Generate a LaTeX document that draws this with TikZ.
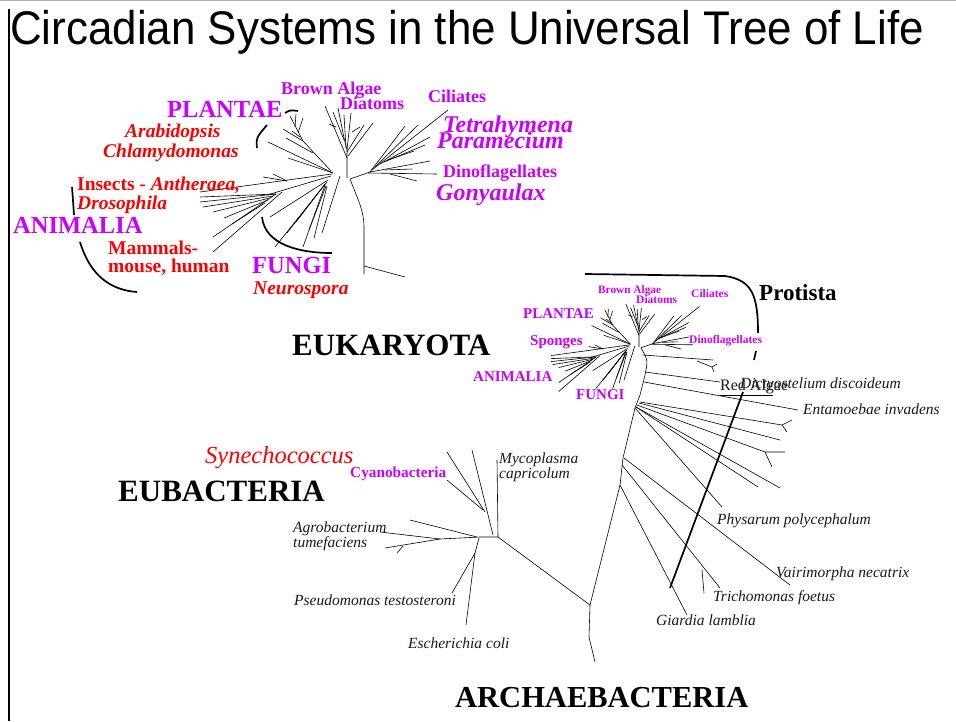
\documentclass[tikz,border=0pt]{standalone}
\usepackage{fontspec}
\setmainfont{Liberation Serif}
\newfontfamily\titlefont{Liberation Sans}
\definecolor{mag}{HTML}{CC00FF}
\definecolor{redl}{HTML}{FF0000}
\definecolor{spc}{HTML}{1A1A1A}
\newcommand{\fsz}[1]{\fontsize{#1}{#1}\selectfont}
\newcommand{\crownpaths}{%
% plants
\draw[br] (333,173)--(268,142);
\draw[br] (333,173)--(288,158);
\draw[br] (331,171)--(303,141)--(290,116);
\draw[br] (303,141)--(283,129);
\draw[br] (313,153)--(286,138);
\draw[br] (298,133)--(303,118);
\draw[br] (295,127)--(296,114);
\draw[br] (300,137)--(292,131);
% sponges
\draw[br] (263,177)--(287,181);
\draw[br] (273,174)--(287,181);
% animals
\draw[br] (332,174)--(200,192);
\draw[br] (331,176)--(267,195);
\draw[br] (276,194)--(200,197);
\draw[br] (276,194)--(200,202);
\draw[br] (273,196)--(203,207);
\draw[br] (270,198)--(213,212);
\draw[br] (268,200)--(224,218);
\draw[br] (265,203)--(232,224);
\draw[br] (276,194)--(213,237);
\draw[br] (282,192)--(213,252);
% fungi
\draw[br] (328,180)--(270,217);
\draw[br] (327,182)--(275,247);
\draw[br] (325,184)--(287,233);
\draw[br] (325,185)--(303,247);
\draw[br] (326,186)--(309,230);
\draw[br] (327,186)--(314,238);
\draw[br] (322,188)--(296,222);
\draw[br] (340,176)--(322,233);
% brown algae / diatoms
\draw[br] (347,178)--(347,150)--(344,138);
\draw[br] (347,158)--(325,106);
\draw[br] (344,140)--(333,112);
\draw[br] (344,138)--(338,108);
\draw[br] (346,148)--(344,115);
\draw[br] (347,150)--(351,113);
\draw[br] (347,152)--(364,125);
\draw[br] (348,156)--(373,123);
\draw[br] (336,127)--(329,124);
\draw[br] (352,132)--(360,127);
% ciliates / dinoflagellates
\draw[br] (350,179)--(370,172);
\draw[br] (370,172)--(405,126);
\draw[br] (375,167)--(418,125);
\draw[br] (372,170)--(448,110);
\draw[br] (380,164)--(430,137);
\draw[br] (384,162)--(425,145);
\draw[br] (388,160)--(414,151);
\draw[br] (370,172)--(430,161);
\draw[br] (368,173)--(437,174);
\draw[br] (390,174)--(417,181);
\draw[br] (385,170)--(412,169);
}
\begin{document}
\begin{tikzpicture}[x=1pt,y=-1pt,
  br/.style={line width=0.6pt, black},
  arcl/.style={line width=1.7pt, black},
  t/.style={anchor=base west, inner sep=0pt},
  mag18/.style={t, text=mag, font=\bfseries\fsz{18}},
  mag24/.style={t, text=mag, font=\bfseries\fsz{24.5}},
  magit/.style={t, text=mag, font=\bfseries\itshape\fsz{24}},
  red20/.style={t, text=redl, font=\bfseries\fsz{19.5}},
  redit/.style={t, text=redl, font=\bfseries\itshape\fsz{19.5}},
  big/.style={t, text=black, font=\bfseries\fsz{31}},
  spec/.style={t, text=spc, font=\itshape\fsz{15.5}},
  magS/.style={t, text=mag, font=\bfseries\fsz{11.5}},
  magM/.style={t, text=mag, font=\bfseries\fsz{15}}]
\useasboundingbox (0,0) rectangle (956,721);
\fill[white] (0,0) rectangle (956,721);
% frame
\draw[gray!60, line width=0.8pt] (0,0.4)--(956,0.4);
\draw[line width=1.5pt] (9,9)--(9,721);
% title
\node[t, font=\titlefont\fsz{43.7}] (title) at (10,44) {\scalebox{1.005}[1.08]{Circadian Systems in the Universal Tree of Life}};

% big eukaryote crown
\crownpaths
\draw[br] (350,179) .. controls (358,200) and (364,210) .. (364,228) -- (364,274);
\draw[br] (364,266)--(405,277);
% bracket arcs
\draw[arcl] (285,113) .. controls (290,110) .. (298,111);
\draw[arcl] (257,148) .. controls (256,138) .. (267,125);
\draw[arcl] (72,187) .. controls (73,200) .. (74,215);
\draw[arcl] (80,242) .. controls (90,275) and (110,290) .. (137,292);
\draw[arcl] (262,217) .. controls (265,245) and (300,253) .. (332,253);

% inset crown
\begin{scope}[shift={(636,346)}, scale=0.6, shift={(-342,-176)}]
\crownpaths
\end{scope}
% Protista bracket
\draw[arcl] (585,274) -- (725,276) .. controls (752,280) and (758,295) .. (758,333);
\draw[arcl] (756,351) -- (754,360);
% main trunk
\draw[br] (641,348) .. controls (648,360) .. (645,375) -- (640,395) -- (635,408) -- (623,458) -- (620,485) -- (607,537) -- (590,605) -- (589,637) -- (595,662);
% protist branches
\draw[br] (643,355)--(713,360);
\draw[br] (697,361)--(712,367)--(717,364);
\draw[br] (712,367)--(714,372);
\draw[br] (645,372)--(720,382);
\draw[br] (644,382)--(798,410);
\draw[br] (720,395)--(773,395);
\draw[br] (640,402)--(702,412)--(782,425);
\draw[br] (782,425)--(792,420);
\draw[br] (782,425)--(787,432);
\draw[br] (639,403)--(780,440);
\draw[br] (637,405)--(765,452)--(785,452);
\draw[br] (765,452)--(772,467);
\draw[br] (636,407)--(758,487);
\draw[br] (636,407)--(780,488);
\draw[br] (635,408)--(722,507);
\draw[br] (624,458)--(790,585);
\draw[br] (622,465)--(720,588);
\draw[br] (702,570)--(704,593);
\draw[br] (620,485)--(687,615);
\draw[arcl] (743,392)--(670,588);
% bacteria
\draw[br] (590,605)--(498,537);
\draw[br] (498,537)--(497,460);
\draw[br] (493,535)--(472,450);
\draw[br] (485,512)--(447,452);
\draw[br] (483,510)--(447,480);
\draw[br] (498,537)--(480,537)--(440,539)--(380,532);
\draw[br] (477,537)--(410,520);
\draw[br] (440,539)--(385,548);
\draw[br] (397,553)--(403,546);
\draw[br] (479,538)--(475,553)--(452,593);
\draw[br] (475,553)--(466,625);

% big crown labels
\node[mag18] (ba1) at (281,94) {Brown Algae};
\node[mag18] (di1) at (340,109) {Diatoms};
\node[mag18] (ci1) at (428,102) {Ciliates};
\node[mag24] (pl1) at (167,117) {PLANTAE};
\node[magit] (te1) at (443,132) {Tetrahymena};
\node[magit] (pa1) at (437,148) {Paramecium};
\node[redit] (ar1) at (125,137) {Arabidopsis};
\node[redit] (ch1) at (103,157) {Chlamydomonas};
\node[mag18] (dn1) at (443,177) {Dinoflagellates};
\node[magit] (go1) at (436,200) {Gonyaulax};
\node[red20] (in1) at (77,190) {Insects - \textit{Antheraea,}};
\node[redit] (dr1) at (77,209) {Drosophila};
\node[mag24] (an1) at (13,233) {ANIMALIA};
\node[red20] (ma1) at (108,254) {Mammals-};
\node[red20] (mo1) at (108,272) {mouse, human};
\node[mag24] (fu1) at (252,273) {FUNGI};
\node[redit] (ne1) at (253,294) {Neurospora};

\node[big] (euk) at (292,355) {EUKARYOTA};
\node[t, font=\bfseries\fsz{23}] (pro) at (759,300) {Protista};

% inset labels
\node[magS, font=\bfseries\fsz{11.3}] (ba2) at (598,293) {Brown Algae};
\node[magS] (di2) at (636,303) {Diatoms};
\node[magS] (ci2) at (691,297) {Ciliates};
\node[magM] (pl2) at (523,318) {PLANTAE};
\node[magM] (sp2) at (530,345) {Sponges};
\node[magS] (dn2) at (689,343) {Dinoflagellates};
\node[magM] (an2) at (473,381) {ANIMALIA};
\node[magM] (fu2) at (576,399) {FUNGI};

% protist labels
\node[t, text=spc, font=\fsz{16}] (red) at (720,390) {Red Algae};
\node[spec] (dic) at (740,388) {Dictyostelium discoideum};
\node[spec] (ent) at (803,414) {Entamoebae invadens};
\node[spec] (phy) at (717,524) {Physarum polycephalum};
\node[spec] (vai) at (776,577) {Vairimorpha necatrix};
\node[spec] (tri) at (713,601) {Trichomonas foetus};
\node[spec] (gia) at (656,625) {Giardia lamblia};

% bacteria labels
\node[t, text=redl, font=\itshape\fsz{24.5}] (syn) at (205,463) {Synechococcus};
\node[t, text=mag, font=\bfseries\fsz{15.3}] (cya) at (350,477) {Cyanobacteria};
\node[big] (eub) at (118,501) {EUBACTERIA};
\node[spec] (myc) at (499,463) {Mycoplasma};
\node[spec] (cap) at (499,478) {capricolum};
\node[spec] (agr) at (293,532) {Agrobacterium};
\node[spec] (tum) at (293,547) {tumefaciens};
\node[spec] (pse) at (294,605) {Pseudomonas testosteroni};
\node[spec] (esc) at (408,648) {Escherichia coli};
\node[big, font=\bfseries\fsz{30.5}] (arc) at (455,707) {ARCHAEBACTERIA};
\end{tikzpicture}
\end{document}
